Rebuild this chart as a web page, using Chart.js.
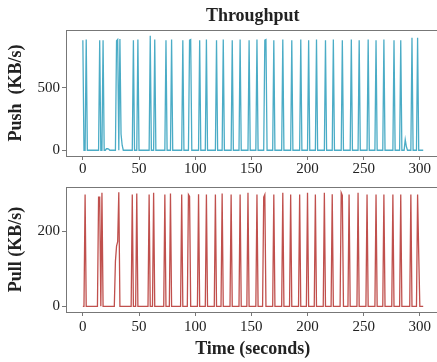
<!DOCTYPE html>
<html>
<head>
<meta charset="utf-8">
<script src="https://cdn.jsdelivr.net/npm/chart.js@4"></script>
<style>
html, body { margin: 0; padding: 0; overflow: hidden; background: #fff; width: 437px; height: 362px; }
canvas { position: absolute; left: 0; }
#top { top: 0; }
#bot { top: 176px; }
</style>
</head>
<body>
<canvas id="top" width="441" height="176"></canvas>
<canvas id="bot" width="441" height="186"></canvas>
<script>
// ---- data (1-second samples; every second not listed is 0 KB/s) ----
const lastSecond = 303;
const xTickLabels = [0, 50, 100, 150, 200, 250, 300];
const pushTickLabels = [0, 500];
const pullTickLabels = [0, 200];

const pushSpikeSec = [0, 3, 15, 18, 21, 22, 23, 30, 31, 33, 34, 35, 45, 49, 60, 64, 74, 79, 89, 95, 96,
  104, 110, 119, 125, 133, 140, 148, 155, 162, 163, 170, 178, 186, 194, 201, 208, 216, 223, 231,
  239, 246, 254, 261, 268, 277, 283, 287, 288, 293, 298];
const pushSpikeKBs = [880, 885, 880, 880, 12, 12, 10, 875, 885, 890, 130, 40, 880, 885, 915, 885, 880, 885, 880, 880, 885,
  880, 885, 880, 885, 880, 885, 880, 885, 880, 885, 880, 885, 880, 885, 880, 885, 880, 885, 880,
  885, 880, 885, 880, 885, 880, 880, 85, 30, 900, 900];

const pullSpikeSec = [2, 14, 15, 17, 29, 30, 31, 32, 44, 48, 59, 63, 73, 78, 88, 94, 95,
  103, 110, 118, 124, 132, 140, 147, 155, 161, 162, 170, 178, 185, 193, 200, 207, 215, 222,
  230, 231, 237, 245, 253, 261, 268, 276, 283, 292, 298, 299];
const pullSpikeKBs = [297, 290, 290, 302, 120, 160, 172, 303, 297, 300, 297, 302, 297, 300, 297, 297, 292,
  298, 297, 297, 300, 297, 297, 302, 297, 290, 297, 297, 302, 297, 297, 302, 297, 302, 298,
  302, 295, 297, 302, 297, 297, 297, 297, 297, 297, 297, 140];

function buildSeries(secs, vals) {
  const pts = [];
  for (let s = 0; s <= lastSecond; s++) pts.push({ x: s, y: 0 });
  secs.forEach((s, i) => { pts[s].y = vals[i]; });
  return pts;
}

const SERIF = "'Liberation Serif', 'Times New Roman', serif";

const framePlugin = {
  id: 'frame',
  afterDraw(chart, args, opts) {
    const { ctx, chartArea: a } = chart;
    ctx.save();
    ctx.strokeStyle = '#777';
    ctx.lineWidth = 1;
    ctx.strokeRect(Math.round(a.left) + 0.5, Math.round(a.top) + 0.5,
      Math.round(a.right - a.left), Math.round(a.bottom - a.top));
    if (opts && opts.title) {
      ctx.fillStyle = '#222';
      ctx.font = 'bold 18px ' + SERIF;
      ctx.textAlign = 'center';
      ctx.textBaseline = 'alphabetic';
      ctx.fillText(opts.title, (a.left + a.right) / 2, 21);
    }
    ctx.restore();
  }
};

function makeChart(id, series, color, yMin, yMax, yTicks, yTitle, opts) {
  return new Chart(document.getElementById(id), {
    type: 'line',
    data: {
      datasets: [{
        data: series,
        borderColor: color,
        borderWidth: 1.3,
        pointRadius: 0,
        tension: 0,
        fill: false
      }]
    },
    plugins: [framePlugin],
    options: {
      responsive: false,
      animation: false,
      events: [],
      layout: { padding: { top: opts.padTop, left: 0, right: 1.5, bottom: 0 } },
      plugins: {
        legend: { display: false },
        tooltip: { enabled: false },
        frame: { title: opts.title }
      },
      scales: {
        x: {
          type: 'linear',
          min: -15,
          max: 317.5,
          afterBuildTicks: (s) => { s.ticks = xTickLabels.map(v => ({ value: v })); },
          afterFit: (s) => { s.height = opts.xHeight; },
          ticks: {
            color: '#222',
            font: { family: SERIF, size: 15 },
            padding: opts.xPad,
            maxRotation: 0,
            autoSkip: false
          },
          grid: { display: true, drawOnChartArea: false, drawTicks: true, tickLength: 4, color: '#777' },
          border: { display: false },
          title: opts.xTitle ? {
            display: true,
            text: opts.xTitle,
            color: '#222',
            font: { family: SERIF, size: 18, weight: 'bold' },
            padding: { top: 0, bottom: 2 }
          } : { display: false }
        },
        y: {
          min: yMin,
          max: yMax,
          afterBuildTicks: (s) => { s.ticks = yTicks.map(v => ({ value: v })); },
          afterFit: (s) => { s.width = 66; },
          ticks: {
            color: '#222',
            font: { family: SERIF, size: 15 },
            padding: 2,
            autoSkip: false
          },
          grid: { display: true, drawOnChartArea: false, drawTicks: true, tickLength: 4, color: '#777' },
          border: { display: false },
          title: {
            display: true,
            text: yTitle,
            color: '#222',
            font: { family: SERIF, size: 18, weight: 'bold' },
            padding: { top: 6, bottom: 0 }
          }
        }
      }
    }
  });
}

makeChart('top', buildSeries(pushSpikeSec, pushSpikeKBs), '#4bacc6', -46, 961, pushTickLabels,
  'Push  (KB/s)', { padTop: 30, xHeight: 20, xPad: 0, title: 'Throughput' });
makeChart('bot', buildSeries(pullSpikeSec, pullSpikeKBs), '#c0504d', -15, 317, pullTickLabels,
  'Pull (KB/s)', { padTop: 10, xHeight: 50, xPad: 2, xTitle: 'Time (seconds)' });
</script>
</body>
</html>
